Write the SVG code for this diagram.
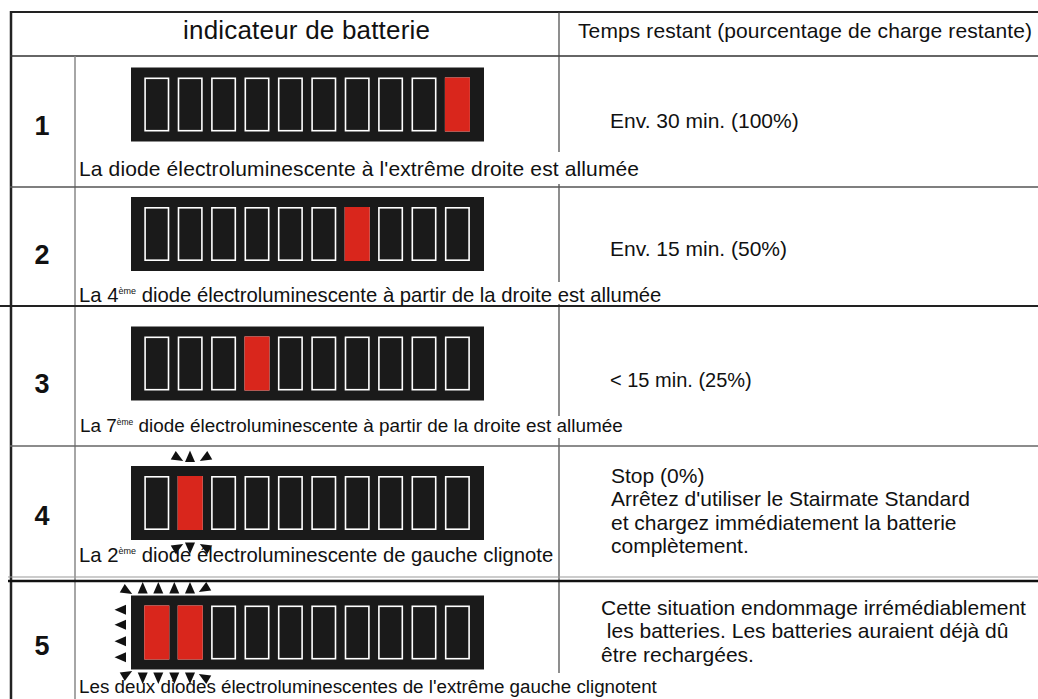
<svg xmlns="http://www.w3.org/2000/svg" xmlns:xlink="http://www.w3.org/1999/xlink" width="1038" height="699" viewBox="0 0 1038 699">
<style>
  text { font-family: "Liberation Sans", Arial, sans-serif; fill: #111; }
  .hdr { font-size: 21px; }
  .num { font-size: 27px; font-weight: bold; text-anchor: middle; }
  .cap { font-size: 20.3px; }
  .val { font-size: 21px; }
  .red { fill: #d9261c; }
  .tri { fill: #111; }
</style>
<defs>
  <g id="bat">
    <rect x="131" y="0" width="353" height="74" fill="#1a1a1a"/>
    <g fill="none" stroke="#ffffff" stroke-width="1.6">
      <rect x="145.1" y="10.8" width="23.4" height="52.4"/>
      <rect x="178.5" y="10.8" width="23.4" height="52.4"/>
      <rect x="211.9" y="10.8" width="23.4" height="52.4"/>
      <rect x="245.3" y="10.8" width="23.4" height="52.4"/>
      <rect x="278.7" y="10.8" width="23.4" height="52.4"/>
      <rect x="312.1" y="10.8" width="23.4" height="52.4"/>
      <rect x="345.5" y="10.8" width="23.4" height="52.4"/>
      <rect x="378.9" y="10.8" width="23.4" height="52.4"/>
      <rect x="412.3" y="10.8" width="23.4" height="52.4"/>
      <rect x="445.7" y="10.8" width="23.4" height="52.4"/>
    </g>
  </g>
  <path id="t" d="M0,-6 L5,5.5 L-5,5.5 Z"/>
</defs>

<g id="table">
  <line x1="10" y1="12" x2="1038" y2="12" stroke="#222" stroke-width="2"/>
  <line x1="11" y1="11" x2="11" y2="699" stroke="#222" stroke-width="2.5"/>
  <line x1="10" y1="56" x2="1038" y2="56" stroke="#333" stroke-width="1.5"/>
  <line x1="75" y1="56" x2="75" y2="699" stroke="#888" stroke-width="1.5"/>
  <line x1="559" y1="12" x2="559" y2="673" stroke="#444" stroke-width="1.2"/>
  <line x1="10" y1="187" x2="1038" y2="187" stroke="#555" stroke-width="1.3"/>
  <line x1="0" y1="306" x2="1038" y2="306" stroke="#222" stroke-width="2"/>
  <line x1="10" y1="446" x2="1038" y2="446" stroke="#666" stroke-width="1.5"/>
  <line x1="8" y1="577" x2="1038" y2="577" stroke="#999" stroke-width="1"/>
  <line x1="8" y1="581" x2="1038" y2="581" stroke="#111" stroke-width="2.5"/>
</g>

<g id="header">
  <text x="183" y="39" style="font-size:26px" textLength="247">indicateur de batterie</text>
  <text class="hdr" x="578" y="38" textLength="454">Temps restant (pourcentage de charge restante)</text>
</g>

<g id="row1">
  <text class="num" x="42" y="135">1</text>
  <use xlink:href="#bat" y="67.5"/>
  <rect class="red" x="444.9" y="77.5" width="25" height="54"/>
  <rect x="540" y="152" width="40" height="32" fill="#fff"/>
  <text x="79" y="176" style="font-size:21px" textLength="560">La diode électroluminescente à l'extrême droite est allumée</text>
  <text class="val" x="610" y="128">Env. 30 min. (100%)</text>
</g>

<g id="row2">
  <text class="num" x="42" y="264">2</text>
  <use xlink:href="#bat" y="197"/>
  <rect class="red" x="344.7" y="207" width="25" height="54"/>
  <rect x="540" y="282" width="40" height="22" fill="#fff"/>
  <text class="cap" x="79" y="302">La 4<tspan font-size="9" dy="-8">ème</tspan><tspan dy="8"> diode électroluminescente à partir de la droite est allumée</tspan></text>
  <text class="val" x="610" y="256">Env. 15 min. (50%)</text>
</g>

<g id="row3">
  <text class="num" x="42" y="393">3</text>
  <use xlink:href="#bat" y="326.5"/>
  <rect class="red" x="244.5" y="336.5" width="25" height="54"/>
  <rect x="540" y="416" width="40" height="22" fill="#fff"/>
  <text x="80" y="432" style="font-size:18.9px">La 7<tspan font-size="8.5" dy="-7">ème</tspan><tspan dy="7"> diode électroluminescente à partir de la droite est allumée</tspan></text>
  <text class="val" x="610" y="387" style="font-size:20px">&lt; 15 min. (25%)</text>
</g>

<g id="row4">
  <text class="num" x="42" y="525">4</text>
  <use xlink:href="#bat" y="466"/>
  <rect class="red" x="177.7" y="476" width="25" height="54"/>
  <g class="tri">
    <use xlink:href="#t" transform="translate(178,458) rotate(120)"/>
    <use xlink:href="#t" transform="translate(190,456.5)"/>
    <use xlink:href="#t" transform="translate(205,458) rotate(240)"/>
    <use xlink:href="#t" transform="translate(178,547) rotate(60)"/>
    <use xlink:href="#t" transform="translate(190,548) rotate(180)"/>
    <use xlink:href="#t" transform="translate(205,547) rotate(300)"/>
  </g>
  <text class="cap" x="79" y="562">La 2<tspan font-size="9" dy="-8">ème</tspan><tspan dy="8"> diode électroluminescente de gauche clignote</tspan></text>
  <text class="val" x="611" y="483">Stop (0%)</text>
  <text class="val" x="611" y="506">Arrêtez d'utiliser le Stairmate Standard</text>
  <text class="val" x="611" y="530">et chargez immédiatement la batterie</text>
  <text class="val" x="611" y="553">complètement.</text>
</g>

<g id="row5">
  <text class="num" x="42" y="655">5</text>
  <use xlink:href="#bat" y="595.5"/>
  <rect class="red" x="144.3" y="605.5" width="25" height="54"/>
  <rect class="red" x="177.7" y="605.5" width="25" height="54"/>
  <g class="tri">
    <use xlink:href="#t" transform="translate(127,591) rotate(120)"/>
    <use xlink:href="#t" transform="translate(142.7,588)"/>
    <use xlink:href="#t" transform="translate(158.3,588)"/>
    <use xlink:href="#t" transform="translate(174.3,588)"/>
    <use xlink:href="#t" transform="translate(190,588)"/>
    <use xlink:href="#t" transform="translate(204,589) rotate(240)"/>
    <use xlink:href="#t" transform="translate(120.5,609.7) rotate(270)"/>
    <use xlink:href="#t" transform="translate(120.5,624.7) rotate(270)"/>
    <use xlink:href="#t" transform="translate(120.5,641.3) rotate(270)"/>
    <use xlink:href="#t" transform="translate(120.5,657.3) rotate(270)"/>
    <use xlink:href="#t" transform="translate(127,674) rotate(60)"/>
    <use xlink:href="#t" transform="translate(142.7,678) rotate(180)"/>
    <use xlink:href="#t" transform="translate(158.3,678) rotate(180)"/>
    <use xlink:href="#t" transform="translate(174.3,678) rotate(180)"/>
    <use xlink:href="#t" transform="translate(190,678) rotate(180)"/>
    <use xlink:href="#t" transform="translate(204,677) rotate(300)"/>
  </g>
  <text x="79" y="693" style="font-size:18.8px">Les deux diodes électroluminescentes de l'extrême gauche clignotent</text>
  <text class="val" x="601" y="615">Cette situation endommage irrémédiablement</text>
  <text class="val" x="601" y="638" xml:space="preserve"> les batteries. Les batteries auraient déjà dû</text>
  <text class="val" x="601" y="662">être rechargées.</text>
</g>
</svg>
